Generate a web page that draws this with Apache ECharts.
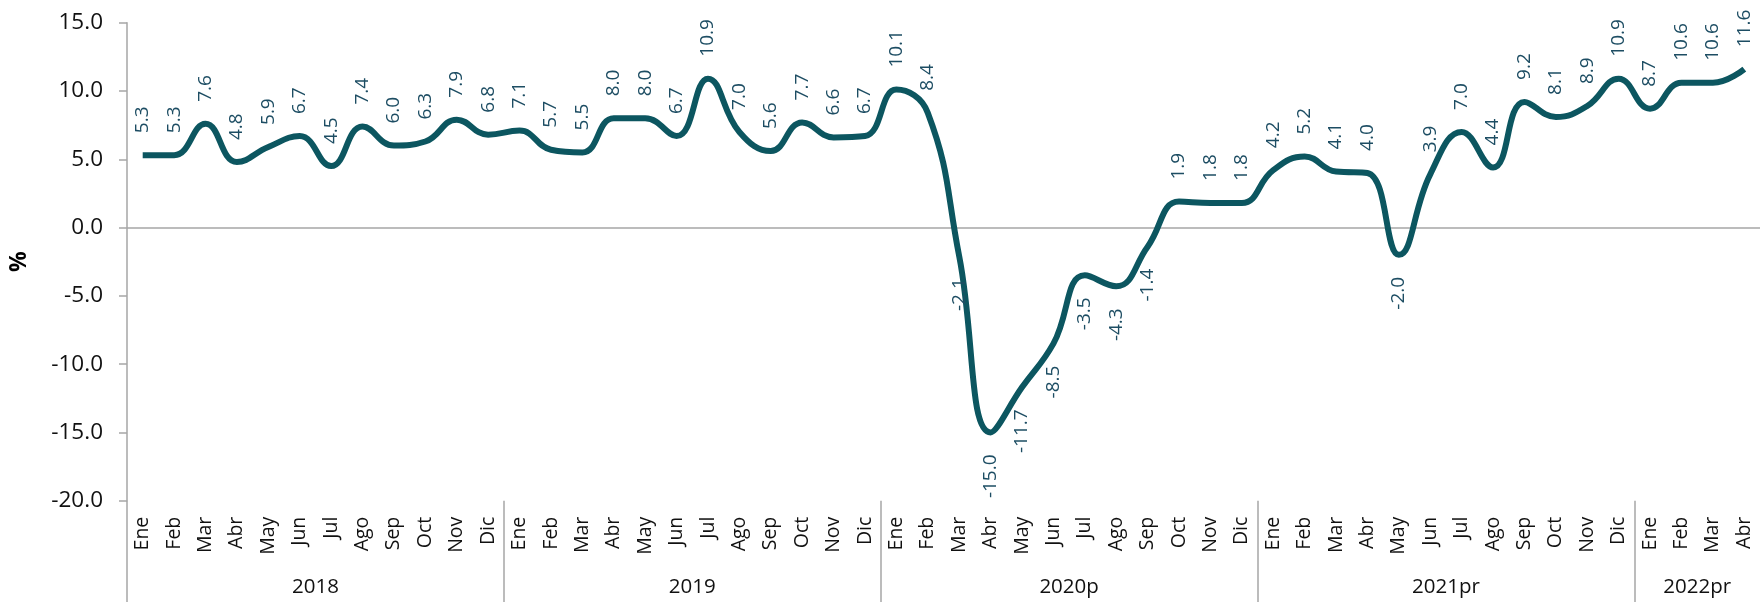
<!DOCTYPE html>
<html>
<head>
<meta charset="utf-8">
<script src="https://cdn.jsdelivr.net/npm/echarts@6/dist/echarts.min.js"></script>
<style>
html,body{margin:0;padding:0;background:#fff;}
#chart{width:1760px;height:602px;}
</style>
</head>
<body>
<div id="chart"></div>
<script>
const months = ['Ene','Feb','Mar','Abr','May','Jun','Jul','Ago','Sep','Oct','Nov','Dic',
  'Ene','Feb','Mar','Abr','May','Jun','Jul','Ago','Sep','Oct','Nov','Dic',
  'Ene','Feb','Mar','Abr','May','Jun','Jul','Ago','Sep','Oct','Nov','Dic',
  'Ene','Feb','Mar','Abr','May','Jun','Jul','Ago','Sep','Oct','Nov','Dic',
  'Ene','Feb','Mar','Abr'];
const years = ['2018','2019','2020p','2021pr','2022pr'];
const yearStart = [0,12,24,36,48];
const yearMid = [6,18,30,42,50];
const values = [5.3,5.3,7.6,4.8,5.9,6.7,4.5,7.4,6.0,6.3,7.9,6.8,
  7.1,5.7,5.5,8.0,8.0,6.7,10.9,7.0,5.6,7.7,6.6,6.7,
  10.1,8.4,-2.1,-15.0,-11.7,-8.5,-3.5,-4.3,-1.4,1.9,1.8,1.8,
  4.2,5.2,4.1,4.0,-2.0,3.9,7.0,4.4,9.2,8.1,8.9,10.9,
  8.7,10.6,10.6,11.6];
const yTicks = [-20,-15,-10,-5,0,5,10,15];

const FONT = '"Open Sans", "Noto Sans", sans-serif';
const GRAY = '#a6a6a6';
const LABEL_COLOR = '#1d4d63';

const seriesData = values.map(v => ({
  value: v,
  label: v < 0
    ? {position: 'bottom', align: 'right', verticalAlign: 'middle'}
    : {position: 'top', align: 'left', verticalAlign: 'middle'}
}));

const chart = echarts.init(document.getElementById('chart'), null, {renderer: 'canvas'});
chart.setOption({
  backgroundColor: '#fff',
  animation: false,
  grid: {left: 125, right: -3, top: 22.7, bottom: 101.3, containLabel: false},
  xAxis: [{
    type: 'category',
    data: months,
    boundaryGap: true,
    axisLine: {show: false},
    axisTick: {show: false},
    splitLine: {show: false},
    axisLabel: {
      interval: 0, rotate: 90, margin: 16,
      fontFamily: FONT, fontSize: 19.5, color: '#111'
    }
  }, {
    type: 'value',
    min: 0, max: 52,
    position: 'bottom',
    axisLine: {show: false},
    splitLine: {show: false},
    axisTick: {
      show: true, length: 110, customValues: yearStart,
      lineStyle: {color: GRAY, width: 1.5}
    },
    axisLabel: {
      show: true, customValues: yearMid, margin: 76,
      fontFamily: FONT, fontSize: 20.5, color: '#111',
      formatter: v => years[yearMid.indexOf(v)] || ''
    }
  }],
  yAxis: {
    type: 'value',
    min: yTicks[0], max: yTicks[yTicks.length - 1], interval: 5,
    name: '%',
    nameLocation: 'middle',
    nameRotate: 90,
    nameGap: 96,
    nameTextStyle: {fontFamily: FONT, fontSize: 23, fontWeight: 'bold', color: '#000'},
    axisLine: {show: true, lineStyle: {color: GRAY, width: 1.5}},
    axisTick: {show: true, length: 8, lineStyle: {color: GRAY, width: 1.5}},
    splitLine: {show: false},
    axisLabel: {
      margin: 24, fontFamily: FONT, fontSize: 22.5, color: '#111',
      formatter: v => v.toFixed(1)
    }
  },
  series: [{
    type: 'line',
    xAxisIndex: 0,
    data: seriesData,
    smooth: 0.45,
    symbol: 'circle',
    symbolSize: 2,
    showSymbol: true,
    itemStyle: {color: 'rgba(0,0,0,0)'},
    lineStyle: {color: '#0c5660', width: 6},
    label: {
      show: true, rotate: 90, distance: 21,
      fontFamily: FONT, fontSize: 19, color: LABEL_COLOR,
      formatter: p => p.value.toFixed(1)
    },
    markLine: {
      silent: true,
      symbol: 'none',
      label: {show: false},
      lineStyle: {color: GRAY, width: 1.5, type: 'solid'},
      data: [{yAxis: 0}],
      z: 1
    },
    z: 5
  }]
});
</script>
</body>
</html>
